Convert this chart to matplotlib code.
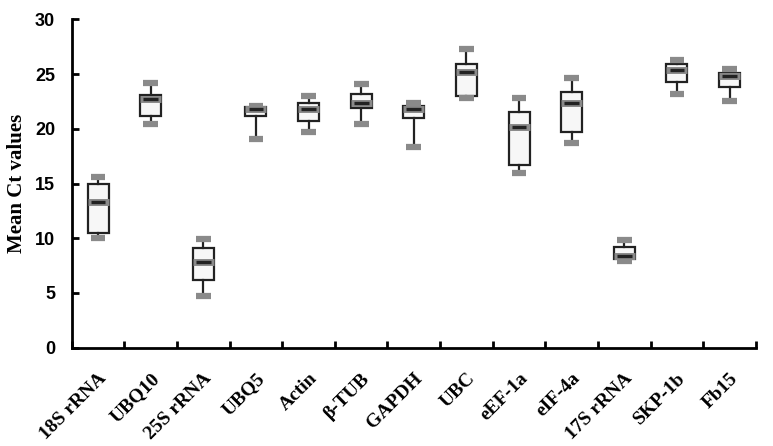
import numpy as np
import matplotlib.pyplot as plt

genes = ['18S rRNA', 'UBQ10', '25S rRNA', 'UBQ5', 'Actin', 'β-TUB', 'GAPDH',
         'UBC', 'eEF-1a', 'eIF-4a', '17S rRNA', 'SKP-1b', 'Fb15']
whislo = [10.0, 20.4, 4.7, 19.1, 19.7, 20.4, 18.3, 22.8, 16.0, 18.7, 7.9, 23.2, 22.5]
q1 = [10.5, 21.2, 6.15, 21.2, 20.7, 21.9, 21.0, 23.0, 16.65, 19.7, 8.07, 24.3, 23.8]
med = [13.3, 22.7, 7.85, 21.8, 21.8, 22.4, 21.8, 25.15, 20.15, 22.35, 8.4, 25.4, 24.8]
q3 = [15.0, 23.1, 9.1, 21.95, 22.4, 23.2, 22.1, 25.9, 21.5, 23.4, 9.2, 25.9, 25.1]
whishi = [15.6, 24.2, 9.9, 22.1, 23.0, 24.1, 22.4, 27.3, 22.8, 24.6, 9.85, 26.25, 25.5]

stats = []
for i in range(len(genes)):
    stats.append(dict(label=genes[i], whislo=whislo[i], q1=q1[i], med=med[i],
                      q3=q3[i], whishi=whishi[i], fliers=[]))

fig = plt.figure(figsize=(7.73, 4.46), dpi=100)
ax = fig.add_axes([0.0928, 0.2204, 0.885, 0.7363])

pos = np.arange(1, len(genes) + 1)

# gray medians/caps drawn underneath, black median on top
ax.bxp(stats, positions=pos, widths=0.4, patch_artist=True, showfliers=False,
       boxprops=dict(facecolor='#f7f7f7', edgecolor='#222222', linewidth=1.6),
       whiskerprops=dict(color='#222222', linewidth=1.6),
       capprops=dict(color='#8a8a8a', linewidth=4.5, solid_capstyle='butt'),
       medianprops=dict(color='#8a8a8a', linewidth=5, solid_capstyle='butt'),
       capwidths=0.28, zorder=2)
ax.hlines(med, pos - 0.14, pos + 0.14, color='#222222', linewidth=2.4, zorder=5)

ax.set_xlim(0.5, len(genes) + 0.5)
ax.set_ylim(0, 30)
ax.set_yticks(np.arange(0, 31, 5))
ax.set_xticks(np.arange(0.5, len(genes) + 1, 1))
ax.set_xticklabels([])
ax.set_xticks(pos, minor=True)
ax.set_xticklabels(genes, minor=True, rotation=45, ha='right',
                   rotation_mode='anchor', fontsize=14, fontweight='bold',
                   family='Liberation Serif')
ax.tick_params(axis='x', which='minor', length=0, pad=16)
ax.tick_params(axis='both', which='major', direction='in', length=5, width=2)
ax.tick_params(axis='y', labelsize=13, pad=12)
for t in ax.get_yticklabels():
    t.set_fontweight('bold')
    t.set_family('Liberation Sans')

for s in ['top', 'right']:
    ax.spines[s].set_visible(False)
for s in ['left', 'bottom']:
    ax.spines[s].set_linewidth(2)

ax.set_ylabel('Mean Ct values', fontsize=15, fontweight='bold',
              family='Liberation Serif', labelpad=6)

fig.savefig('out.png', dpi=100)
